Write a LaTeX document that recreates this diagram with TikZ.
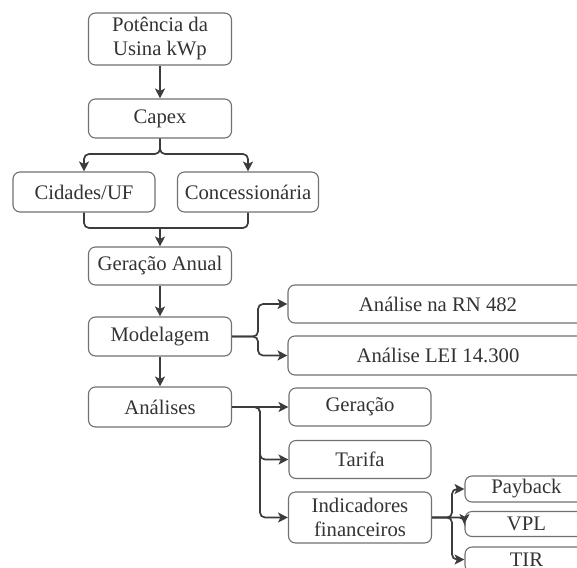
\documentclass[tikz,border=0pt]{standalone}
\usepackage{fontspec}
\setmainfont{Liberation Serif}
\usetikzlibrary{arrows.meta}
\definecolor{txt}{HTML}{333333}
\definecolor{bord}{HTML}{707070}
\definecolor{ln}{HTML}{3C3C3C}
\tikzset{
  box/.style={draw=bord, line width=1.1pt, rounded corners=7pt, text=txt, align=center,
    inner sep=0pt, font=\fontsize{20.7}{24}\selectfont},
  conn/.style={draw=ln, line width=1.7pt, rounded corners=5pt},
  arr/.style={conn, -{Stealth[length=10pt,width=10pt,inset=2.5pt]}}
}
\begin{document}
\begin{tikzpicture}[x=1pt,y=-1pt]
\useasboundingbox (0,0) rectangle (577,567);
\clip (0,0) rectangle (577,567);
% main column
\node[box, minimum width=143pt, minimum height=52pt] (pot) at (160,39) {Potência da\\Usina kWp};
\node[box, minimum width=143pt, minimum height=39pt] (capex) at (160,118.5) {Capex};
\node[box, minimum width=142pt, minimum height=40pt] (cid) at (84,192) {Cidades/UF};
\node[box, minimum width=141pt, minimum height=40pt] (conc) at (248,192) {Concessionária};
\node[box, minimum width=143pt, minimum height=38pt] (ga) at (160,266) {Geração Anual};
\node[box, minimum width=143pt, minimum height=39pt] (mod) at (160,336.5) {Modelagem};
\node[box, minimum width=143pt, minimum height=40pt] (an) at (160,407) {Análises};
% right side
\node[box, minimum width=300pt, minimum height=38pt] (rn) at (438,304) {Análise na RN 482};
\node[box, minimum width=300pt, minimum height=39pt] (lei) at (438,355.5) {Análise LEI 14.300};
\node[box, minimum width=142pt, minimum height=38pt] (ger) at (360,407) {Geração};
\node[box, minimum width=142pt, minimum height=38pt] (tar) at (360,459.5) {Tarifa};
\node[box, minimum width=143pt, minimum height=51pt] (ind) at (360,517.5) {Indicadores\\financeiros};
\node[box, minimum width=123pt, minimum height=26pt] (pay) at (526.5,489) {Payback};
\node[box, minimum width=123pt, minimum height=25pt] (vpl) at (526.5,524) {VPL};
\node[box, minimum width=123pt, minimum height=25pt] (tir) at (526.5,559.5) {TIR};
% junction coordinates
\coordinate (b1) at (160,154);
\coordinate (m1) at (160,228);
\coordinate (j1) at (258,336.5);
\coordinate (j2) at (260,407);
\coordinate (j3) at (452,517.5);
% connectors
\draw[arr] (pot) -- (capex);
\draw[arr] (capex.south) |- (cid.north |- b1) -- (cid.north);
\draw[arr] (capex.south) |- (conc.north |- b1) -- (conc.north);
\draw[conn] (cid.south) |- (conc.south |- m1) -- (conc.south);
\draw[arr] (m1) -- (ga.north);
\draw[arr] (ga) -- (mod);
\draw[arr] (mod.east) -- (j1) |- (rn.west);
\draw[arr] (mod.east) -- (j1) |- (lei.west);
\draw[arr] (mod) -- (an);
\draw[arr] (an.east) -- (ger.west);
\draw[arr] (an.east) -- (j2) |- (tar.west);
\draw[arr] (an.east) -- (j2) |- (ind.west);
\draw[arr] (ind.east) -- (j3) |- (pay.west);
\draw[arr] (ind.east) -- (vpl.west |- j3) -- (vpl.west);
\draw[arr] (ind.east) -- (j3) |- (tir.west);
\end{tikzpicture}
\end{document}
